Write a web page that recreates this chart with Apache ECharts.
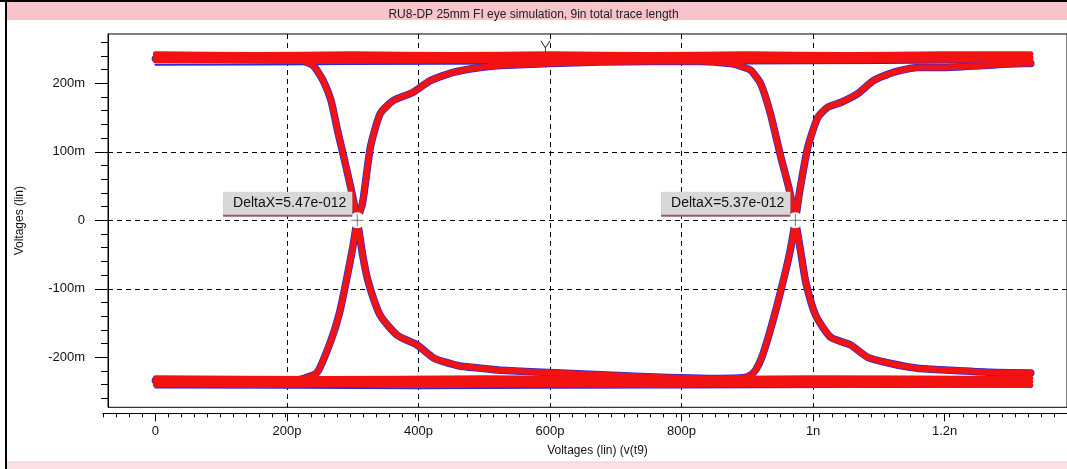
<!DOCTYPE html>
<html><head><meta charset="utf-8">
<script src="https://cdn.jsdelivr.net/npm/echarts@6/dist/echarts.min.js"></script>
<style>html,body{margin:0;padding:0;background:#fff;}#c{width:1067px;height:469px;}</style>
</head><body><div id="c"></div>
<script>
// ---------- text ----------
const chartTitle = 'RU8-DP 25mm FI eye simulation, 9in total trace length';
const xAxisName = 'Voltages (lin) (v(t9)';
const yAxisName = 'Voltages (lin)';
// ---------- ticks (x in ps, y in mV) ----------
const xTickValues = [0, 200, 400, 600, 800, 1000, 1200];
const xTickLabels = ['0', '200p', '400p', '600p', '800p', '1n', '1.2n'];
const yTickValues = [-200, -100, 0, 100, 200];
const yTickLabels = ['-200m', '-100m', '0', '100m', '200m'];
// ---------- traces [time ps, voltage mV] ----------
const topRailHi = [[0,243],[150,242],[300,243],[450,242],[600,243],[750,242],[900,243],[1050,242],[1200,243],[1331,243]];
const topRailMid = [[0,238],[200,237],[400,238],[600,237],[800,238],[1000,237],[1200,238],[1331,238]];
const topRailLo = [[0,233],[250,232],[500,233],[750,232],[1000,233],[1331,234]];
const botRailHi = [[0,-230],[250,-231],[500,-230],[750,-231],[1000,-230],[1331,-231]];
const botRailMid = [[0,-235],[200,-236],[400,-235],[600,-236],[800,-235],[1000,-236],[1200,-235],[1331,-236]];
const botRailLo = [[0,-240],[150,-241],[300,-240],[450,-241],[600,-240],[750,-241],[900,-240],[1050,-241],[1200,-240],[1331,-241]];
const blueTop = [[0,227],[300,228],[600,229],[900,229],[1331,231]];
const blueBot = [[0,-244],[400,-245],[800,-244],[1331,-243]];
const traceFallRise = [[0,236],[100,235],[200,234],[225,232],[240,226],[255,204],[267,175],[277,131],[287,90],[297,48],[307,0],[315,-50],[324,-91],[342,-139],[368,-168],[398,-182],[423,-201],[459,-212],[494,-216],[525,-219],[616,-223],[738,-228],[859,-231],[893,-230],[905,-226],[913,-218],[922,-200],[932,-170],[945,-125],[958,-75],[966,-40],[973,0],[980,45],[992,107],[1007,150],[1022,165],[1042,172],[1068,185],[1092,204],[1122,216],[1159,223],[1197,223],[1259,226],[1320,229],[1331,229]];
const traceRiseFall = [[0,-234],[100,-235],[200,-234],[225,-231],[246,-222],[266,-178],[280,-135],[292,-80],[300,-40],[307,0],[315,25],[327,107],[342,156],[362,175],[392,187],[418,204],[453,216],[494,223],[525,226],[677,231],[829,232],[874,229],[890,225],[905,219],[920,200],[935,156],[951,92],[963,48],[973,0],[981,-45],[989,-91],[1004,-139],[1027,-171],[1057,-182],[1083,-200],[1118,-209],[1159,-216],[1209,-219],[1270,-222],[1331,-223]];
// ---------- annotations ----------
const crossPoints = [[307, 0], [973, 0]];
const deltaLabels = ['DeltaX=5.47e-012', 'DeltaX=5.37e-012'];
const cursorMarks = [[593, 254]];

// ---------- layout constants ----------
const KX = 0.658, X0 = 155.4, KY = 0.685, Y0 = 220.3;
const xMin = -72, xMax = 1386, yMin = -273, yMax = 272;
const rxMin = -80, rxMax = 1400, ryMin = -260, ryMax = 260;
const gTop = Y0 - yMax * KY, gH = (yMax - yMin) * KY;

const chart = echarts.init(document.getElementById('c'), null, {renderer: 'canvas'});
const RED = '#f21212', BLUE = '#2a2ad8';
const FONT = 'Liberation Sans';
const dash = {type: [5, 4], color: '#000', width: 1};

function lineSeries(name, data, color, width, z) {
  return {name, type: 'line', data, xAxisIndex: 0, yAxisIndex: 0, showSymbol: false, symbol: 'none',
    smooth: 0.2, lineStyle: {color, width, join: 'round', cap: 'round'}, z, silent: true, clip: true};
}

const option = {
  animation: false,
  backgroundColor: '#fff',
  textStyle: {fontFamily: FONT},
  title: {text: chartTitle, left: 'center', top: 4,
    textStyle: {fontFamily: FONT, fontSize: 12, fontWeight: 'normal', color: '#222'}},
  graphic: [
    {type: 'rect', z: -10, shape: {x: 6, y: 2, width: 1061, height: 18}, style: {fill: '#f9c3ca'}},
    {type: 'rect', z: -10, shape: {x: 6, y: 462, width: 1061, height: 7}, style: {fill: '#fbe1e5'}},
    {type: 'line', z: 5, shape: {x1: 6, y1: 462, x2: 1067, y2: 462}, style: {stroke: '#f0c8ce', lineWidth: 1}},
    {type: 'rect', z: 5, shape: {x: 0, y: 0, width: 1067, height: 2}, style: {fill: '#000'}},
    {type: 'rect', z: 5, shape: {x: 5, y: 0, width: 2, height: 469}, style: {fill: '#000'}}
  ],
  grid: [
    {left: X0 + xMin * KX, top: gTop, width: (xMax - xMin) * KX, height: gH, show: true,
      borderColor: '#000', borderWidth: 1, backgroundColor: '#fff'},
    {left: X0 + rxMin * KX, top: gTop, width: (rxMax - rxMin) * KX, height: gH, show: false},
    {left: X0 + xMin * KX, top: Y0 - ryMax * KY, width: (xMax - xMin) * KX, height: (ryMax - ryMin) * KY, show: false}
  ],
  xAxis: [
    {gridIndex: 0, type: 'value', min: xMin, max: xMax, splitNumber: 7, position: 'bottom', offset: 6,
      axisLine: {show: false, onZero: false},
      axisTick: {show: true, length: 8, lineStyle: {color: '#000'}, customValues: xTickValues},
      axisLabel: {show: true, margin: 12, fontSize: 13, color: '#111', fontFamily: FONT, customValues: xTickValues,
        formatter: v => { const i = xTickValues.indexOf(Math.round(v)); return i >= 0 ? xTickLabels[i] : ''; }},
      splitLine: {show: true, lineStyle: dash, showMinLine: false, showMaxLine: false},
      name: xAxisName, nameLocation: 'middle', nameGap: 31,
      nameTextStyle: {fontSize: 12, color: '#111', fontFamily: FONT, padding: [0, 0, 0, 20]}},
    {gridIndex: 1, type: 'value', min: rxMin, max: rxMax, interval: 20, position: 'bottom', offset: 6,
      axisLine: {show: true, onZero: false, lineStyle: {color: '#000', width: 1}},
      axisTick: {show: true, length: 4, lineStyle: {color: '#000'}},
      axisLabel: {show: false}, splitLine: {show: false}},
    {gridIndex: 2, type: 'value', min: xMin, max: xMax, show: false, axisLine: {onZero: false}}
  ],
  yAxis: [
    {gridIndex: 0, type: 'value', min: yMin, max: yMax, splitNumber: 5, position: 'left',
      axisLine: {show: true, onZero: false, lineStyle: {color: '#000', width: 1}},
      axisTick: {show: true, length: 13, lineStyle: {color: '#000'}, customValues: yTickValues},
      axisLabel: {show: true, margin: 23, fontSize: 13, color: '#111', fontFamily: FONT, customValues: yTickValues,
        formatter: v => { const i = yTickValues.indexOf(Math.round(v)); return i >= 0 ? yTickLabels[i] : ''; }},
      splitLine: {show: true, lineStyle: dash, showMinLine: false, showMaxLine: false},
      name: yAxisName, nameLocation: 'middle', nameGap: 82, nameRotate: 90,
      nameTextStyle: {fontSize: 12, color: '#111', fontFamily: FONT}},
    {gridIndex: 1, type: 'value', min: yMin, max: yMax, show: false, axisLine: {onZero: false}},
    {gridIndex: 2, type: 'value', min: ryMin, max: ryMax, interval: 20, position: 'left',
      axisLine: {show: false, onZero: false}, axisTick: {show: true, length: 7, lineStyle: {color: '#000'}},
      axisLabel: {show: false}, splitLine: {show: false}}
  ],
  series: [
    lineSeries('blueTop', blueTop, BLUE, 2, 2),
    lineSeries('blueBot', blueBot, BLUE, 2, 2),
    lineSeries('blueFallRise', traceFallRise, BLUE, 7.5, 2),
    lineSeries('blueRiseFall', traceRiseFall, BLUE, 7.5, 2),
    lineSeries('topRailHi', topRailHi, RED, 5, 3),
    lineSeries('topRailMid', topRailMid, RED, 5, 3),
    lineSeries('topRailLo', topRailLo, RED, 5, 3),
    lineSeries('botRailHi', botRailHi, RED, 5, 3),
    lineSeries('botRailMid', botRailMid, RED, 5, 3),
    lineSeries('botRailLo', botRailLo, RED, 5, 3),
    lineSeries('fallRise', traceFallRise, RED, 6, 4),
    lineSeries('riseFall', traceRiseFall, RED, 6, 4),
    {name: 'crossCircle', type: 'scatter', xAxisIndex: 0, yAxisIndex: 0, data: crossPoints, z: 6,
      symbol: 'emptyCircle', symbolSize: 14, itemStyle: {color: '#fff', borderColor: '#555', borderWidth: 1.2, opacity: 1},
      label: {show: true, position: 'left', distance: 0, offset: [3, -17],
        formatter: p => deltaLabels[p.dataIndex], fontSize: 14, fontFamily: FONT, color: '#111',
        backgroundColor: '#d8d8d8', padding: [5, 6, 4, 10],
        shadowColor: '#9a5a64', shadowOffsetY: 2, shadowBlur: 0}},
    {name: 'crossHair', type: 'scatter', xAxisIndex: 0, yAxisIndex: 0, data: crossPoints, z: 7,
      symbol: 'path://M0,5L10,5M5,0L5,10', symbolSize: 12,
      itemStyle: {color: 'none', borderColor: '#555', borderWidth: 1}},
    {name: 'cursor', type: 'scatter', xAxisIndex: 0, yAxisIndex: 0, data: cursorMarks, z: 7,
      symbol: 'path://M0,0L5,7L10,0M5,7L5,11', symbolSize: [9, 11],
      itemStyle: {color: 'none', borderColor: '#000', borderWidth: 1}}
  ]
};
chart.setOption(option);
</script></body></html>
